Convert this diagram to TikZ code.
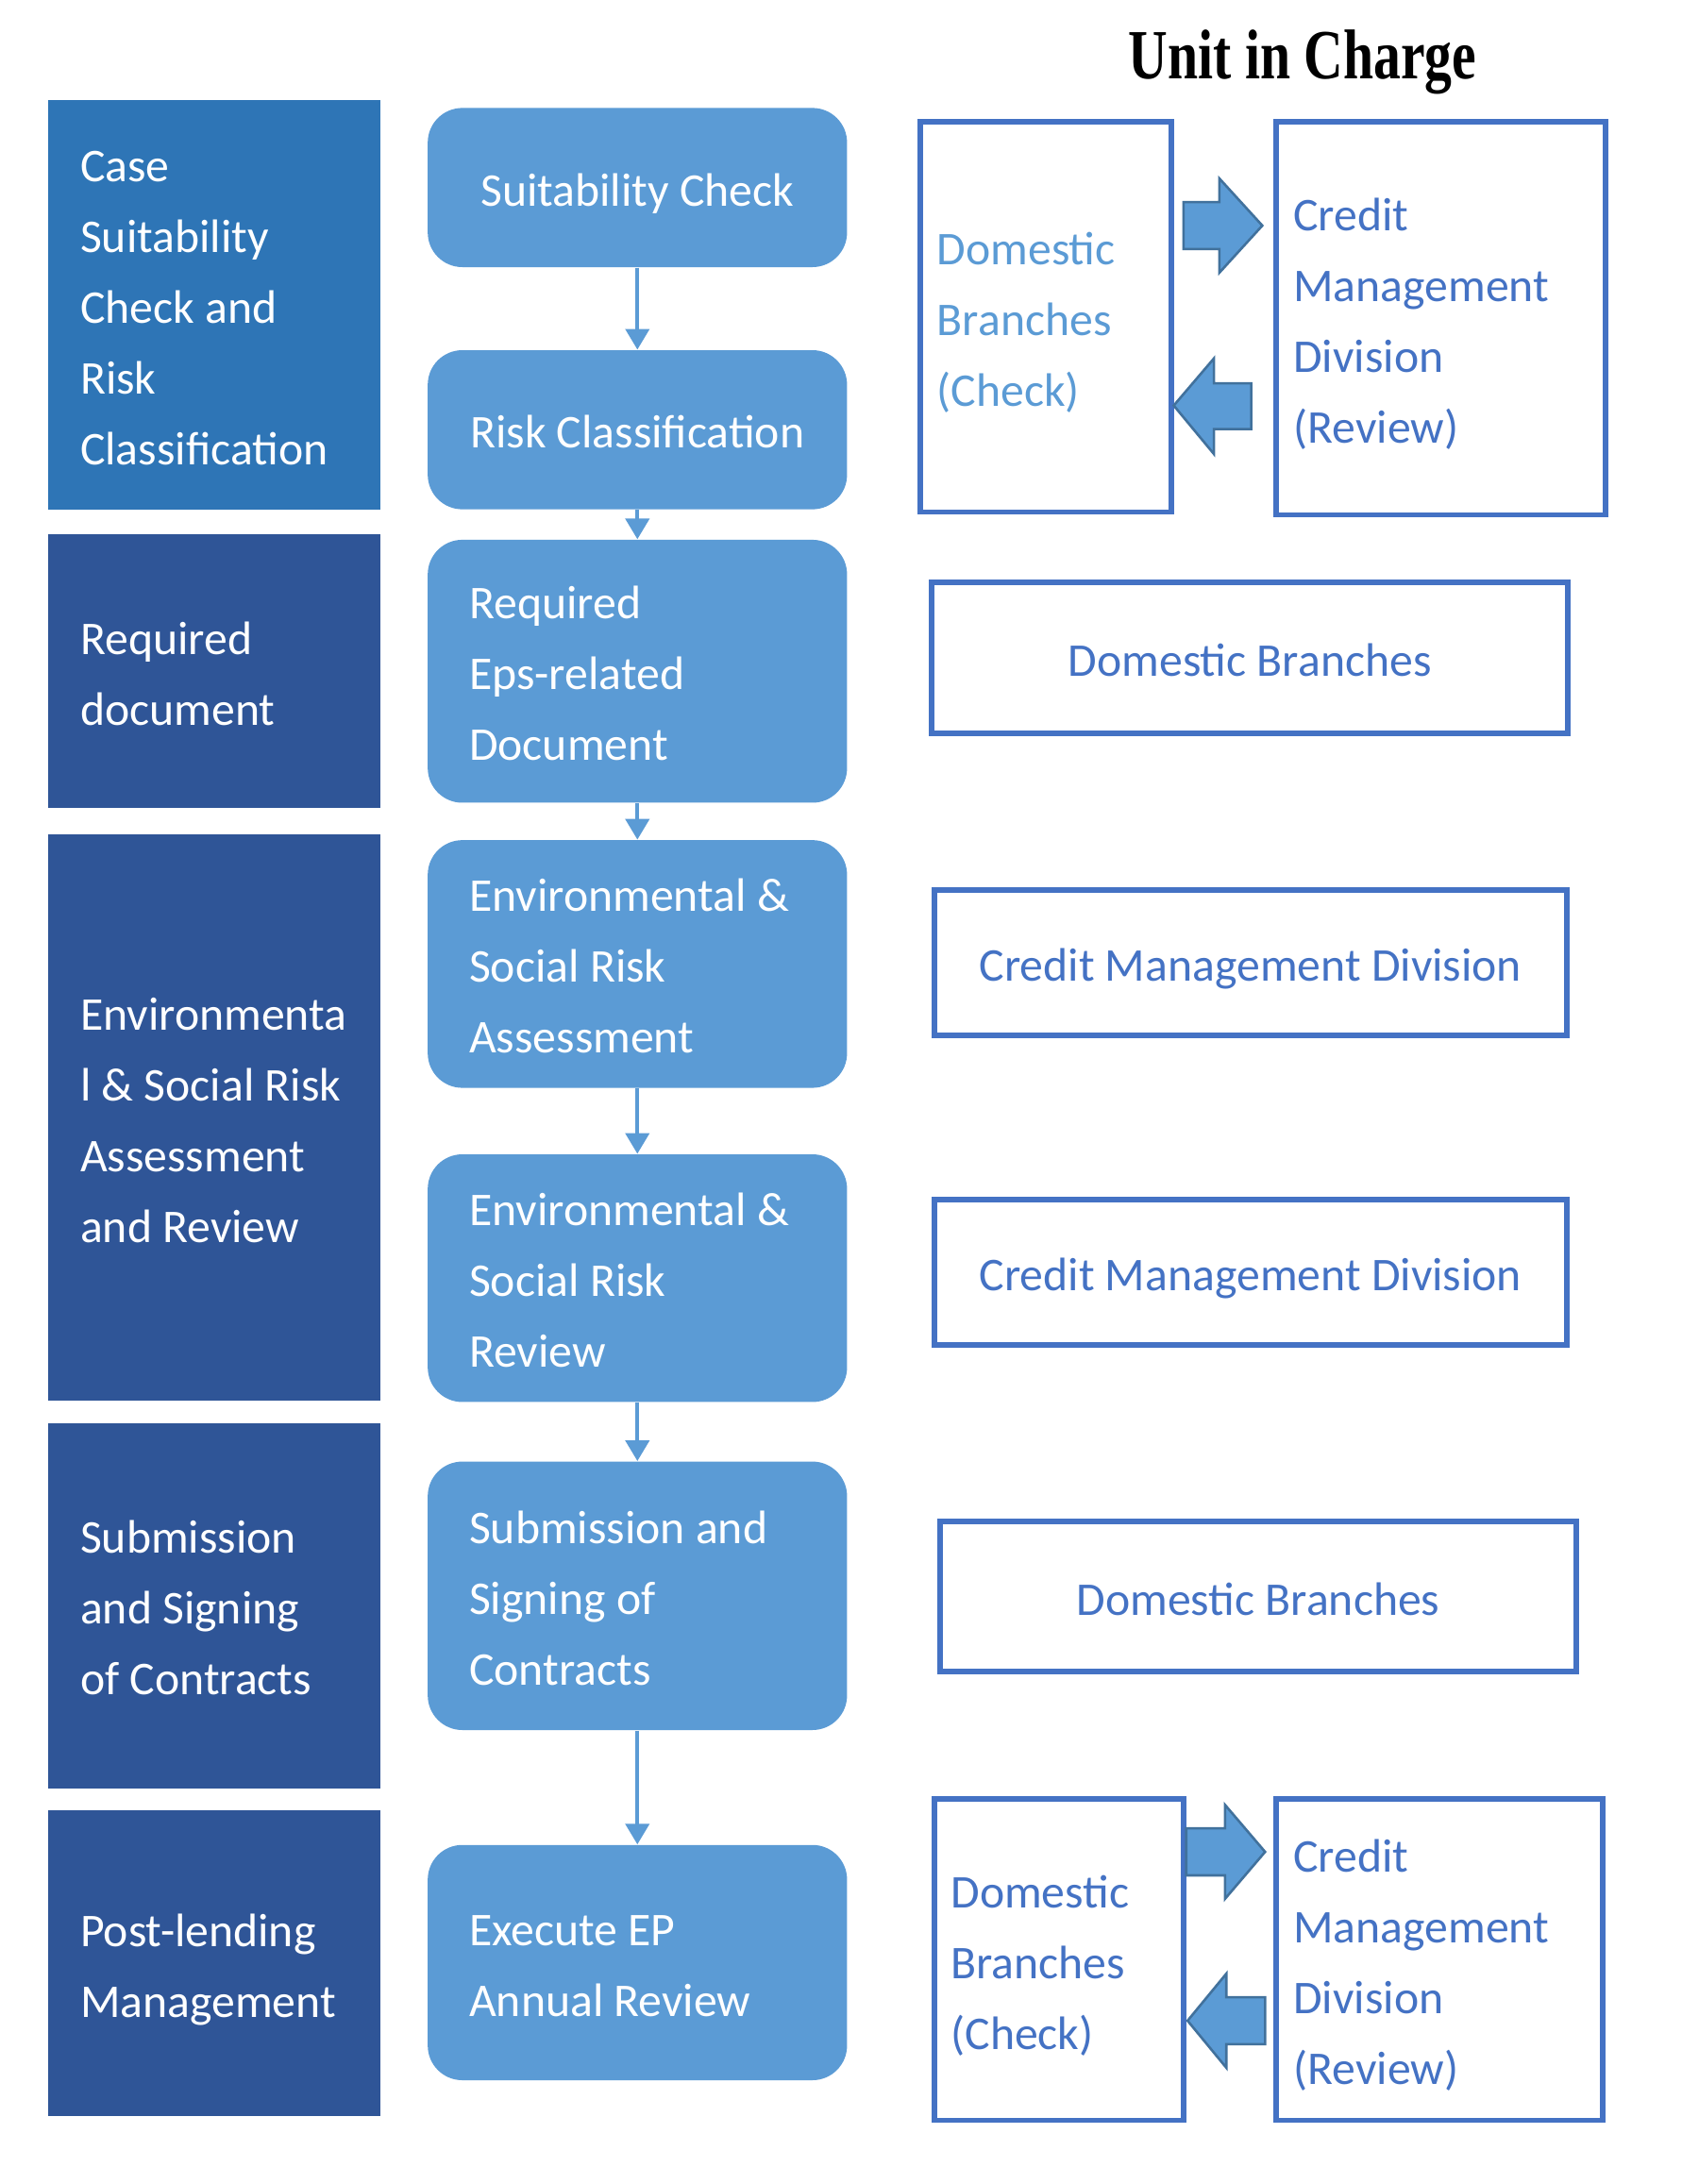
\documentclass[tikz,border=0pt]{standalone}
\usepackage{fontspec}
\usepackage{graphicx}
\usepackage{xcolor}
\usepackage{tikz}
\usetikzlibrary{arrows.meta}
\setmainfont{Carlito}
\newfontfamily\titlefont{Liberation Serif}
\definecolor{stageblue}{RGB}{46, 117, 182}
\definecolor{stagenavy}{RGB}{47, 85, 151}
\definecolor{stepblue}{RGB}{91, 155, 213}
\definecolor{unitblue}{RGB}{68, 114, 196}
\definecolor{arrowedge}{RGB}{65, 113, 156}
\newcommand{\boxfont}{\fontsize{19.3}{29.1}\selectfont}

\begin{document}
\begin{tikzpicture}[x=0.02cm, y=-0.02cm,
  boxtext/.style={font=\boxfont, inner sep=0pt,
    execute at begin node={\rule{0pt}{19.5pt}}, execute at end node={\rule[-4.3pt]{0pt}{0pt}}},
  stage/.style={boxtext, fill=stagenavy, text=white, minimum width=4.8cm, text width=3.88cm, align=flush left},
  stepbox/.style={boxtext, fill=stepblue, text=white, rounded corners=0.5cm, minimum width=6.06cm, text width=4.86cm, align=flush left},
  unitbox/.style={boxtext, draw=unitblue, line width=0.08cm, text=unitblue, align=flush center},
  flow/.style={draw=stepblue, line width=0.06cm, -{Triangle[width=0.34cm, length=0.3cm]}},
  blockarrow/.style={fill=stepblue, draw=arrowedge, line width=1pt}
]
\fill[white] (0,0) rectangle (1215,1578);

\node[font=\titlefont\bfseries\fontsize{29}{34}\selectfont] (unit) at (941,45) {\scalebox{0.772}[1]{Unit in Charge}};

% stages
\node[stage, fill=stageblue, minimum height=5.92cm] (case) at (155,220) {Case\\Suitability\\Check and\\Risk\\Classification};
\node[stage, minimum height=3.96cm] (doc) at (155,485) {Required\\document};
\node[stage, minimum height=8.18cm] (esra) at (155,807.5) {Environmenta\\l \& Social Risk\\Assessment\\and Review};
\node[stage, minimum height=5.28cm] (sign) at (155,1160) {Submission\\and Signing\\of Contracts};
\node[stage, minimum height=4.42cm] (post) at (155,1418.5) {Post-lending\\Management};

% steps
\node[stepbox, minimum height=2.3cm, text width=5.6cm, align=flush center] (suit) at (460.5,135.5) {Suitability Check};
\node[stepbox, minimum height=2.3cm, text width=5.6cm, align=flush center] (risk) at (460.5,310.5) {Risk Classification};
\node[stepbox, minimum height=3.8cm] (eps) at (460.5,485) {Required\\Eps-related\\Document};
\node[stepbox, minimum height=3.58cm] (assess) at (460.5,696.5) {Environmental \&\\Social Risk\\Assessment};
\node[stepbox, minimum height=3.58cm] (review) at (460.5,923.5) {Environmental \&\\Social Risk\\Review};
\node[stepbox, minimum height=3.88cm] (contract) at (460.5,1153) {Submission and\\Signing of\\Contracts};
\node[stepbox, minimum height=3.4cm] (annual) at (460.5,1418) {Execute EP\\Annual Review};

\draw[flow] (suit) -- (risk);
\draw[flow] (risk) -- (eps);
\draw[flow] (eps) -- (assess);
\draw[flow] (assess) -- (review);
\draw[flow] (review) -- (contract);
\draw[flow] (contract) -- (annual);

% units in charge
\node[unitbox, minimum width=3.62cm, minimum height=5.64cm, text width=3.14cm, align=flush left, text=stepblue] (dom1) at (755.5,229) {Domestic\\Branches\\(Check)};
\node[unitbox, minimum width=4.76cm, minimum height=5.68cm, text width=4.26cm, align=flush left] (cmd1) at (1041,230) {Credit\\Management\\Division\\(Review)};
\node[unitbox, minimum width=9.2cm, minimum height=2.18cm] (dom2) at (903,475.5) {Domestic Branches};
\node[unitbox, minimum width=9.14cm, minimum height=2.1cm] (cmd2) at (903.5,695.5) {Credit Management Division};
\node[unitbox, minimum width=9.14cm, minimum height=2.1cm] (cmd3) at (903.5,919.5) {Credit Management Division};
\node[unitbox, minimum width=9.2cm, minimum height=2.18cm] (dom3) at (909,1153.5) {Domestic Branches};
\node[unitbox, minimum width=3.6cm, minimum height=4.64cm, text width=3.12cm, align=flush left] (dom4) at (765,1416) {Domestic\\Branches\\(Check)};
\node[unitbox, minimum width=4.72cm, minimum height=4.64cm, text width=4.22cm, align=flush left] (cmd4) at (1040,1416) {Credit\\Management\\Division\\(Review)};

% check / review arrows
\draw[blockarrow] (855,146) -- (881,146) -- (881,129) -- (912,163) -- (881,197) -- (881,180) -- (855,180) -- cycle;
\draw[blockarrow] (904,277) -- (877,277) -- (877,259) -- (848,293) -- (877,328) -- (877,310) -- (904,310) -- cycle;
\draw[blockarrow] (857,1321) -- (885,1321) -- (885,1304) -- (914,1338) -- (885,1372) -- (885,1355) -- (857,1355) -- cycle;
\draw[blockarrow] (914,1443) -- (886,1443) -- (886,1426) -- (858,1460) -- (886,1494) -- (886,1477) -- (914,1477) -- cycle;
\end{tikzpicture}
\end{document}
